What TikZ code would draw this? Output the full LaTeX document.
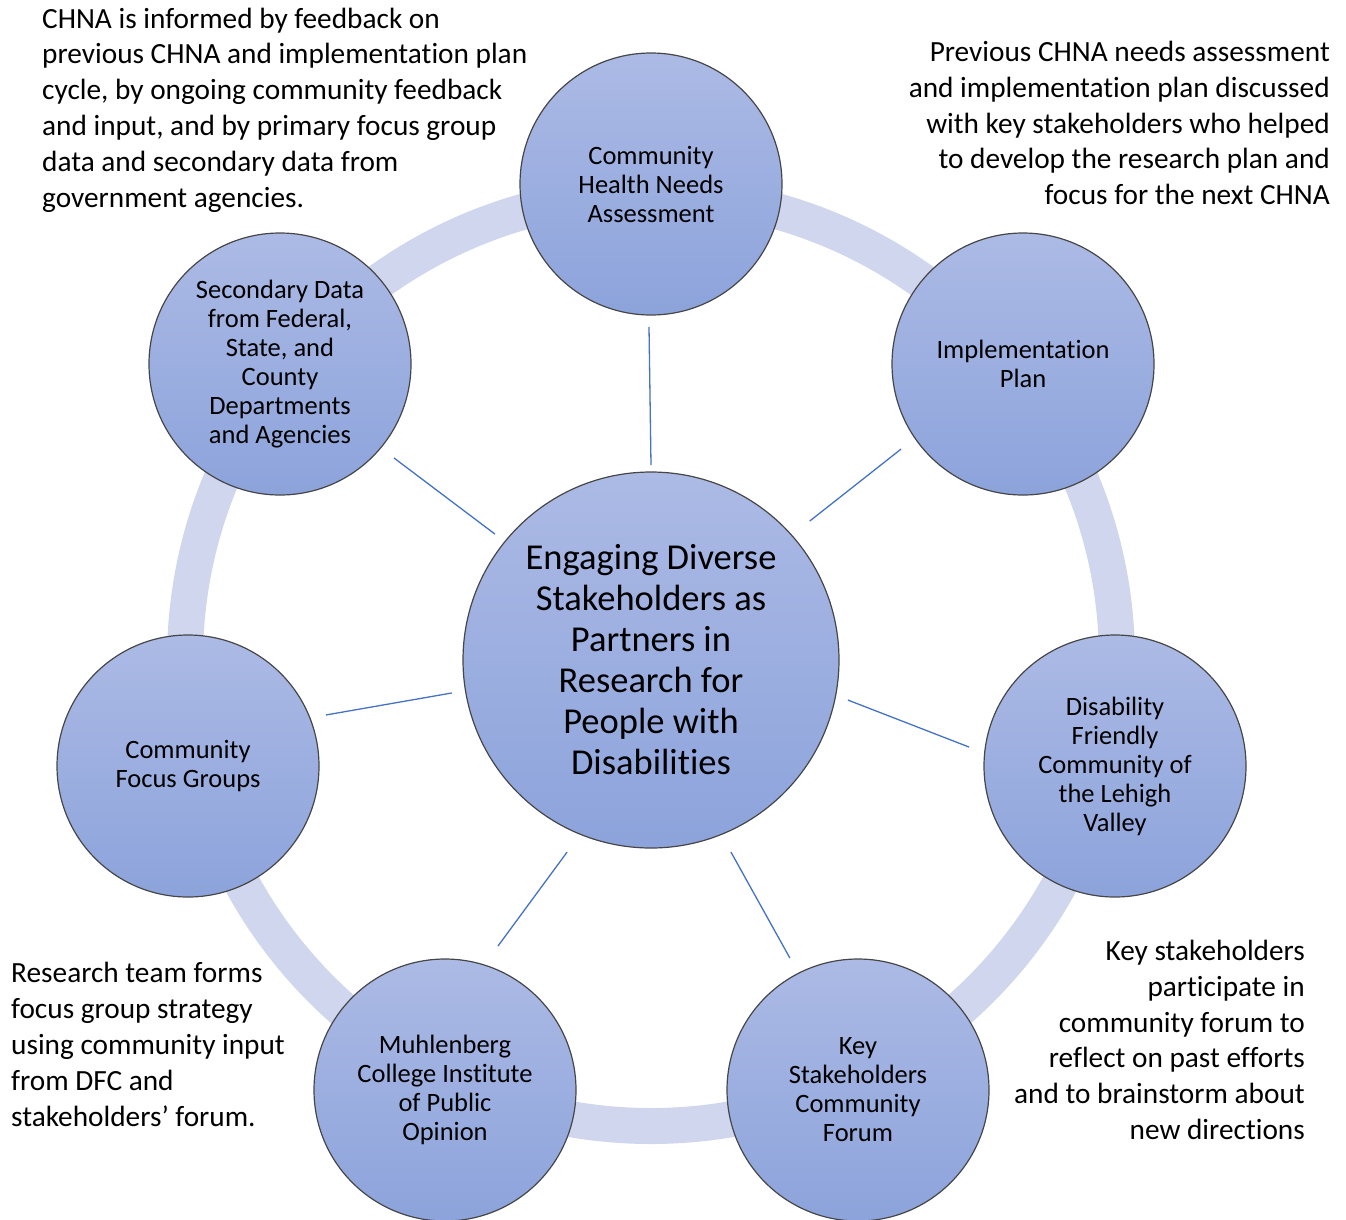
\documentclass[tikz,border=0pt]{standalone}
\usepackage{fontspec}
\setmainfont{Carlito}[Ligatures=NoCommon]
\usetikzlibrary{calc}
\definecolor{satTop}{RGB}{172,186,229}
\definecolor{satBot}{RGB}{140,163,219}
\definecolor{edgeC}{RGB}{70,70,70}
\definecolor{ringC}{RGB}{208,214,237}
\definecolor{connC}{RGB}{68,114,196}
\tikzset{
  sat/.style={circle, draw=edgeC, line width=1.2pt, minimum size=262pt, inner sep=0pt,
    top color=satTop, bottom color=satBot, align=center, text=black,
    font=\fontsize{26.5}{29}\selectfont},
  hub/.style={sat, minimum size=376pt, font=\fontsize{36.5}{41}\selectfont},
  conn/.style={draw=connC, line width=1.3pt},
  note/.style={inner sep=0pt, text=black, font=\fontsize{29.3}{35.8}\selectfont},
  ringband/.style={draw=ringC, line width=36pt}
}
\begin{document}
\begin{tikzpicture}[x=1pt,y=-1pt]
\useasboundingbox (0,0) rectangle (1346,1219);
\coordinate (ringc) at (651,660);
\draw[ringband] (ringc) circle[radius=466];
\node[hub] (hub) at (651,660) {Engaging Diverse\\Stakeholders as\\Partners in\\Research for\\People with\\Disabilities};
\node[sat] (chna) at (651,184) {Community\\Health Needs\\Assessment};
\node[sat] (impl) at (1023,364) {Implementation\\Plan};
\node[sat] (dfc) at (1115,766) {Disability\\Friendly\\Community of\\the Lehigh\\Valley};
\node[sat] (key) at (858,1090) {Key\\Stakeholders\\Community\\Forum};
\node[sat] (muhl) at (445,1090) {Muhlenberg\\College Institute\\of Public\\Opinion};
\node[sat] (focus) at (188,766) {Community\\Focus Groups};
\node[sat] (sec) at (280,364) {Secondary Data\\from Federal,\\State, and\\County\\Departments\\and Agencies};
% spokes: (hub angle, hub radius, satellite, satellite angle, satellite radius)
\foreach \ha/\hr/\s/\sa/\sr in {90/195/chna/269.2/143, 41.2/211/impl/214.9/148.7,
  -11.5/201/dfc/172.6/147.2, -67.4/208/key/117.3/148.5, 246.4/209.6/muhl/69.8/153.4,
  189.4/201.7/focus/20.3/147.1, 141.1/200.5/sec/-39.5/147.8}{
  \draw[conn] ($(hub.center)+(\ha:\hr pt)$) -- ($(\s.center)+(\sa:\sr pt)$);
}
\node[note, anchor=west, align=left] (n1) at (42,110) {CHNA is informed by feedback on\\previous CHNA and implementation plan\\cycle, by ongoing community feedback\\and input, and by primary focus group\\data and secondary data from\\government agencies.};
\node[note, anchor=east, align=right] (n2) at (1330,123) {Previous CHNA needs assessment\\and implementation plan discussed\\with key stakeholders who helped\\to develop the research plan and\\focus for the next CHNA};
\node[note, anchor=east, align=right] (n3) at (1305,1040) {Key stakeholders\\participate in\\community forum to\\reflect on past efforts\\and to brainstorm about\\new directions};
\node[note, anchor=west, align=left] (n4) at (11,1044.5) {Research team forms\\focus group strategy\\using community input\\from DFC and\\stakeholders’ forum.};
\end{tikzpicture}
\end{document}
